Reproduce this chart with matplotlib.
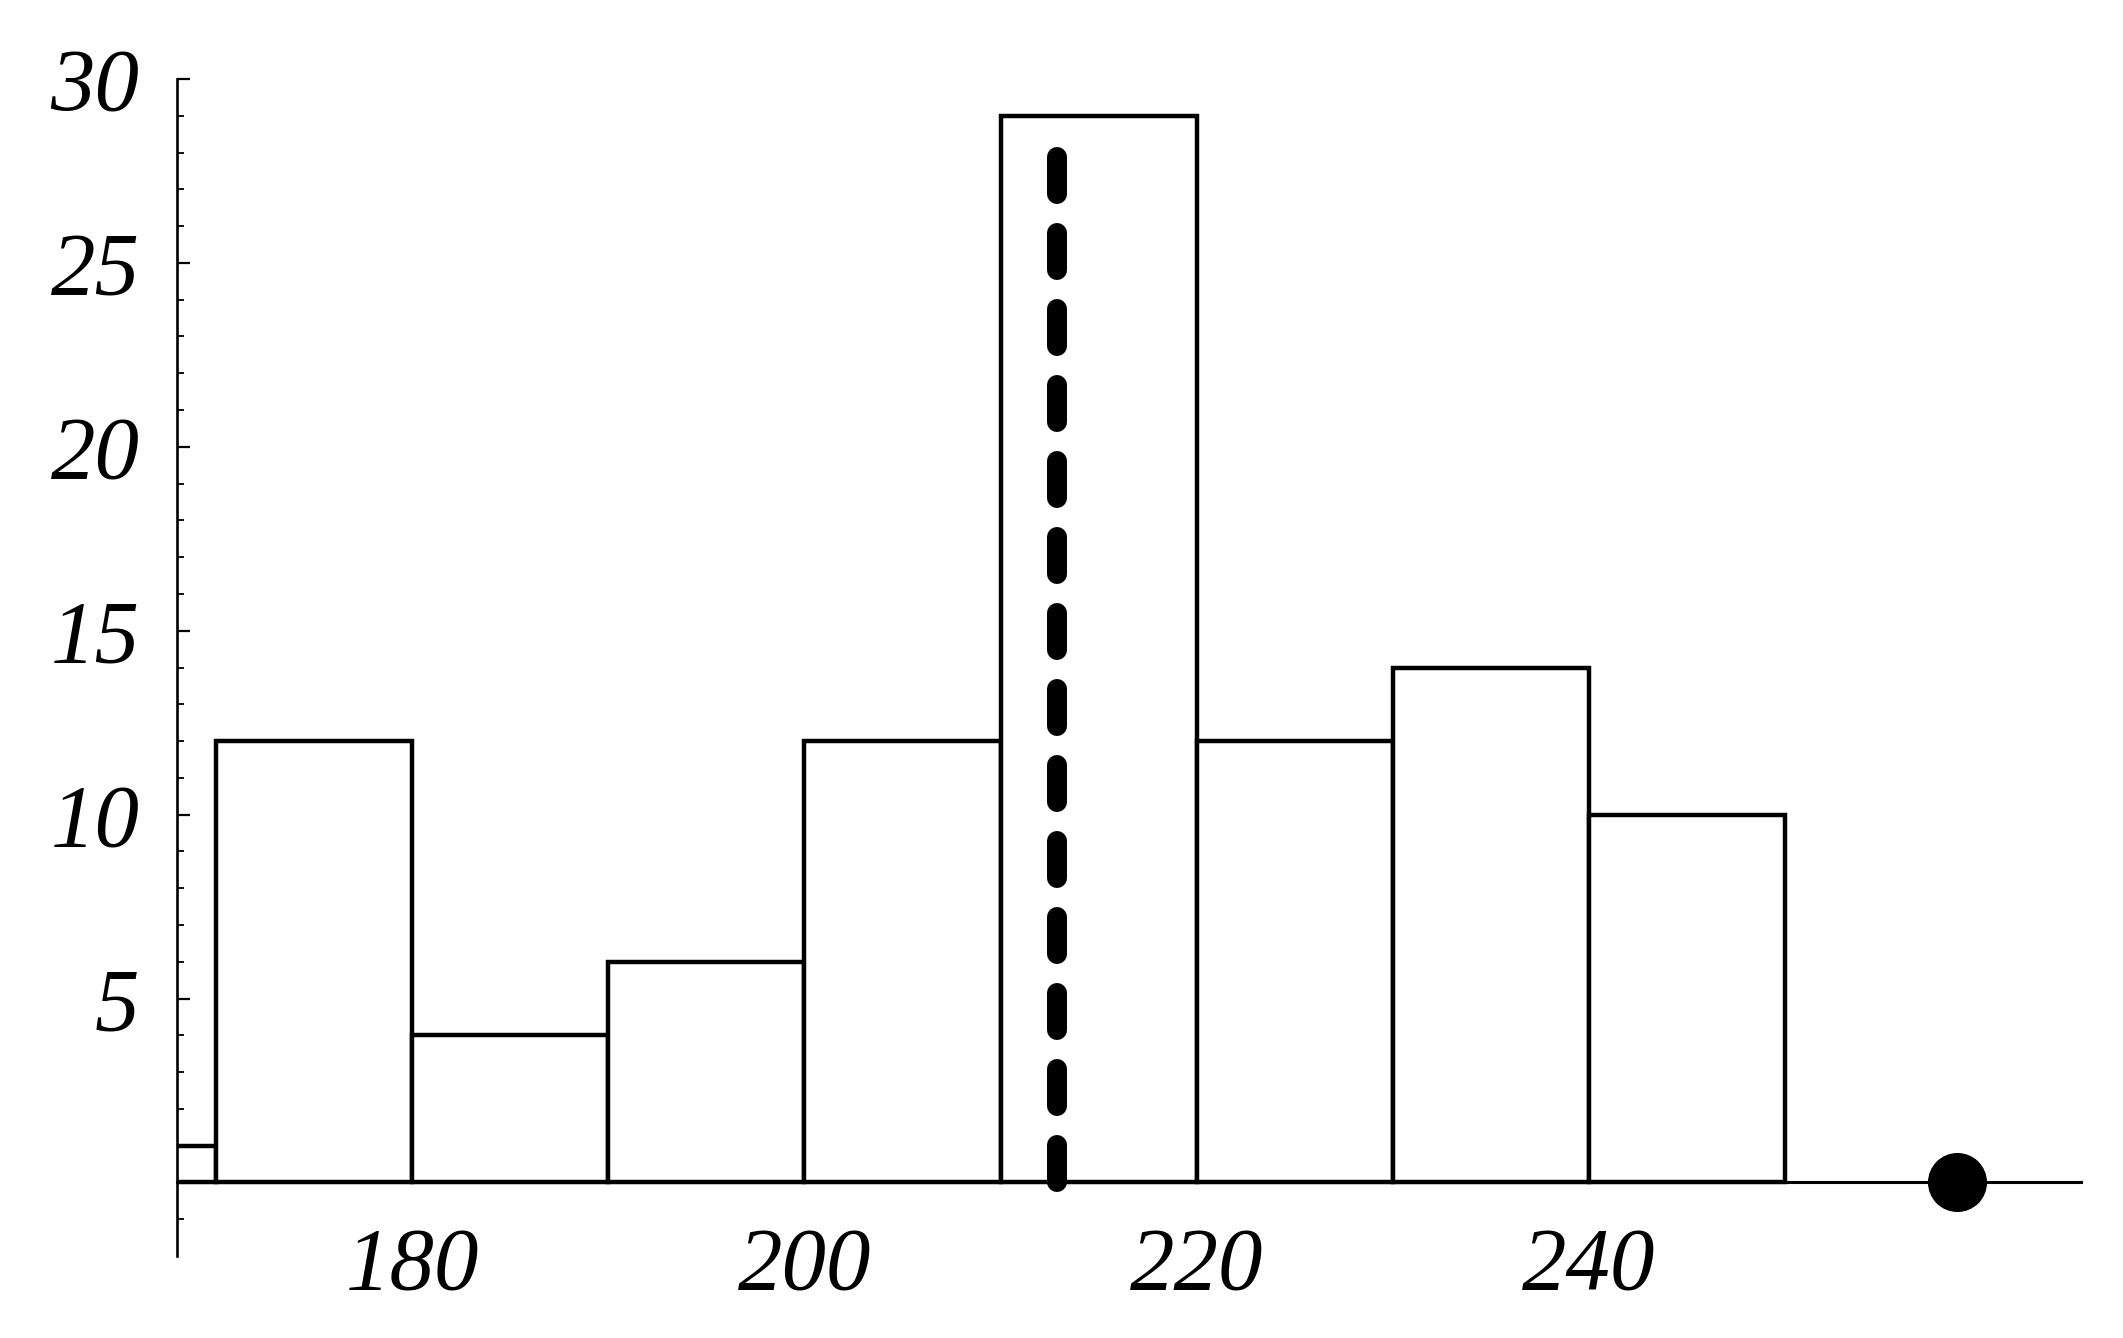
import matplotlib
matplotlib.use("Agg")
import matplotlib.pyplot as plt
import numpy as np

# Histogram data (bin left edges, counts)
bin_edges = [160, 170, 180, 190, 200, 210, 220, 230, 240, 250]
counts = [1, 12, 4, 6, 12, 29, 12, 14, 10]
mean_line_x = 212.9
mean_line_top = 28
dot_x = 258.8
x_ticks = [180, 200, 220, 240]
y_ticks = [5, 10, 15, 20, 25, 30]

W, H = 2123, 1338
fig = plt.figure(figsize=(W / 100, H / 100), dpi=100)
ax = fig.add_axes([177 / W, 1 - 1256 / H, (2081 - 177) / W, (1256 - 79) / H])

lefts = bin_edges[:-1]
widths = np.diff(bin_edges)
ax.bar(lefts, counts, width=widths, align='edge', facecolor='white',
       edgecolor='black', linewidth=3.2, zorder=2)

ax.plot([mean_line_x, mean_line_x], [0, mean_line_top], color='black',
        linewidth=14.4, dashes=(1.85, 1.95), dash_capstyle='round', zorder=4)
ax.plot([dot_x], [0], 'o', color='black', markersize=41.5, zorder=5, clip_on=False)

ax.set_xlim(168, 265.1)
ax.set_ylim(-2, 30)

for s in ['top', 'right']:
    ax.spines[s].set_visible(False)
ax.spines['bottom'].set_position(('data', 0))
ax.spines['bottom'].set_linewidth(2.2)
ax.spines['bottom'].set_zorder(3)
ax.spines['left'].set_linewidth(1.9)

ax.set_xticks(x_ticks)
ax.set_xticklabels([str(t) for t in x_ticks])
ax.tick_params(axis='x', length=0, pad=32)

ax.set_yticks(y_ticks)
ax.set_yticklabels([str(t) for t in y_ticks])
minor = [v for v in range(-1, 30) if v % 5 != 0]
ax.set_yticks(minor, minor=True)
ax.tick_params(axis='y', which='major', direction='in', length=9.4, width=1.6, pad=27)
ax.tick_params(axis='y', which='minor', direction='in', length=4.7, width=1.3)

for lab in ax.get_xticklabels() + ax.get_yticklabels():
    lab.set_fontfamily('Liberation Serif')
    lab.set_fontstyle('italic')
    lab.set_fontsize(64)

fig.savefig('out.png', dpi=100, facecolor='white')
